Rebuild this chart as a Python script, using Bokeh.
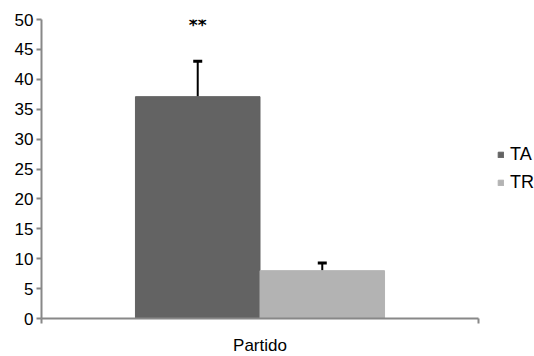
from bokeh.plotting import figure
from bokeh.models import (ColumnDataSource, FixedTicker, Whisker, TeeHead, Legend,
                          LegendItem, Range1d)
from bokeh.embed import file_html
from bokeh.resources import INLINE
from bokeh.core.properties import value

categories = ["Partido"]
series = ["TA", "TR"]
means = [37.1, 8.0]
errors = [5.9, 1.3]
signif = ["**", ""]
y_ticks = [0, 5, 10, 15, 20, 25, 30, 35, 40, 45, 50]

colors = ["#636363", "#b3b3b3"]
FONT = "Liberation Sans"
bar_w = 0.285
centers = [0.5 + (i - (len(series) - 1) / 2) * bar_w for i in range(len(series))]
uppers = [m + e for m, e in zip(means, errors)]

src = ColumnDataSource(dict(x=centers, top=means, upper=uppers, name=series,
                            color=colors, sig=signif,
                            sig_y=[u + 6.1 for u in uppers]))

p = figure(frame_width=437, frame_height=299, output_backend="svg",
           toolbar_location=None, x_range=Range1d(0, 1), y_range=Range1d(0, 50),
           min_border_left=41, min_border_top=19, min_border_right=56,
           min_border_bottom=30)
p.outline_line_color = None
p.grid.visible = False

r = p.vbar(x="x", top="top", width=bar_w, color="color", source=src)

w = Whisker(base="x", lower="top", upper="upper", source=src, dimension="height",
            line_width=2, line_color="black", lower_head=None,
            upper_head=TeeHead(size=9, line_width=3, line_color="black"))
p.add_layout(w)

p.text(x="x", y="sig_y", text="sig", source=src, text_align="center",
       text_baseline="middle", text_font=value("DejaVu Sans"), text_font_size="17px",
       text_font_style="bold", text_color="black")

ax = p.yaxis[0]
ax.ticker = FixedTicker(ticks=y_ticks)
ax.axis_line_color = "#888888"
ax.axis_line_width = 2
ax.major_tick_line_color = "#888888"
ax.major_tick_line_width = 2
ax.major_tick_out = 5
ax.major_tick_in = 0
ax.minor_tick_line_color = None
ax.major_label_text_font = FONT
ax.major_label_text_font_size = "17px"
ax.major_label_text_color = "black"
ax.major_label_standoff = 3

xa = p.xaxis[0]
xa.ticker = FixedTicker(ticks=[0, 1])
xa.major_label_overrides = {0: "", 1: ""}
xa.major_label_text_font_size = "0px"
xa.major_label_standoff = 0
xa.axis_line_color = "#888888"
xa.axis_line_width = 2
xa.major_tick_line_color = "#888888"
xa.major_tick_line_width = 2
xa.major_tick_out = 5
xa.major_tick_in = 0
xa.minor_tick_line_color = None
xa.axis_label = categories[0]
xa.axis_label_text_font = FONT
xa.axis_label_text_font_size = "17px"
xa.axis_label_text_font_style = "normal"
xa.axis_label_text_color = "black"
xa.axis_label_standoff = 12

items = [LegendItem(label=s, renderers=[r], index=i) for i, s in enumerate(series)]
leg = Legend(items=items, location=(19, 125), border_line_alpha=0,
             background_fill_alpha=0, padding=0, margin=0, spacing=7,
             glyph_width=7, glyph_height=7, label_height=20, label_standoff=6,
             label_text_font=FONT, label_text_font_size="18px",
             label_text_color="black")
p.add_layout(leg, "right")

open("out.html", "w").write(file_html(p, INLINE))
